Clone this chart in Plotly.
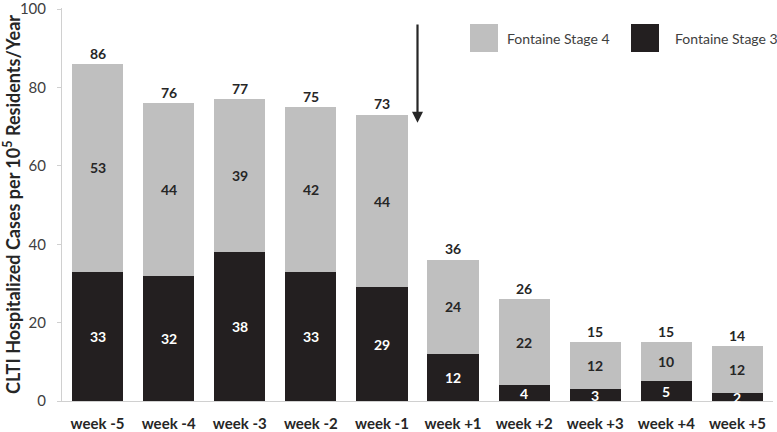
import plotly.graph_objects as go

categories = ["week -5", "week -4", "week -3", "week -2", "week -1",
              "week +1", "week +2", "week +3", "week +4", "week +5"]
stage3 = [33, 32, 38, 33, 29, 12, 4, 3, 5, 2]
stage4 = [53, 44, 39, 42, 44, 24, 22, 12, 10, 12]
totals = [a + b for a, b in zip(stage3, stage4)]
y_ticks = [0, 20, 40, 60, 80, 100]

GRAY = "#BFBFBF"
BLACK = "#231F20"
TXT = "#262626"
FONT = "Lato"

W, H = 777, 432
L, R, T, B = 62, 4, 8, 31
PW, PH = W - L - R, H - T - B


def px(xp):
    return (xp - L) / PW


def py(yp):
    return (H - B - yp) / PH


fig = go.Figure()
fig.add_trace(go.Bar(x=categories, y=stage3, name="Fontaine Stage 3",
                     marker=dict(color=BLACK, line=dict(width=0))))
fig.add_trace(go.Bar(x=categories, y=stage4, name="Fontaine Stage 4",
                     marker=dict(color=GRAY, line=dict(width=0))))

ann = []
for i, c in enumerate(categories):
    ann.append(dict(x=c, y=stage3[i] / 2, text=f"<b>{stage3[i]}</b>", showarrow=False,
                    font=dict(family=FONT, size=14, color="white")))
    ann.append(dict(x=c, y=stage3[i] + stage4[i] / 2, text=f"<b>{stage4[i]}</b>", showarrow=False,
                    font=dict(family=FONT, size=14, color=TXT)))
    ann.append(dict(x=c, y=totals[i], text=f"<b>{totals[i]}</b>", showarrow=False,
                    yanchor="middle", yshift=11,
                    font=dict(family=FONT, size=14, color=TXT)))

# arrow between week -1 and week +1
ann.append(dict(x=4.5, y=71, ax=4.5, ay=96.5, axref="x", ayref="y", xref="x", yref="y",
                text="", showarrow=True, arrowhead=2, arrowsize=1.0, arrowwidth=2.2,
                arrowcolor=TXT))

# legend text
ann.append(dict(xref="paper", yref="paper", x=px(505), y=py(38), xanchor="left", yanchor="middle",
                text="Fontaine Stage 4", showarrow=False, font=dict(family=FONT, size=14, color="#404040")))
ann.append(dict(xref="paper", yref="paper", x=px(673), y=py(38), xanchor="left", yanchor="middle",
                text="Fontaine Stage 3", showarrow=False, font=dict(family=FONT, size=14, color="#404040")))

shapes = [
    dict(type="rect", xref="paper", yref="paper", x0=px(470), x1=px(498), y0=py(52), y1=py(24),
         fillcolor=GRAY, line=dict(width=0)),
    dict(type="rect", xref="paper", yref="paper", x0=px(631), x1=px(659), y0=py(52), y1=py(24),
         fillcolor=BLACK, line=dict(width=0)),
]

fig.update_layout(
    barmode="stack",
    bargap=0.28,
    width=W, height=H,
    margin=dict(l=L, r=R, t=T, b=B, autoexpand=False),
    plot_bgcolor="white", paper_bgcolor="white",
    showlegend=False,
    annotations=ann,
    shapes=shapes,
    font=dict(family=FONT, color="#404040"),
    xaxis=dict(
        type="category", automargin=False,
        showline=True, linecolor="#D0D0D0", linewidth=1,
        ticks="", showgrid=False,
        tickfont=dict(family=FONT, size=15, color=TXT),
        ticklabelstandoff=9,
        tickprefix="<b>", ticksuffix="</b>",
    ),
    yaxis=dict(
        range=[0, 100.3], tickvals=y_ticks, automargin=False,
        showline=True, linecolor="#D0D0D0", linewidth=1,
        ticks="outside", ticklen=4, tickcolor="#D0D0D0",
        showgrid=False, zeroline=False,
        ticklabeloverflow="allow",
        tickfont=dict(family=FONT, size=15, color="#404040"),
        tickprefix="<b>", ticksuffix="</b>",
        ticklabelstandoff=8,
        title=dict(text="<b>CLTI Hospitalized Cases per 10<sup>5</sup> Residents/Year</b>",
                   font=dict(family=FONT, size=18, color=TXT), standoff=4),
    ),
)

fig.write_html("out.html", config={"displayModeBar": False},
               post_script="document.body.style.margin='0';document.body.style.overflow='hidden';")
